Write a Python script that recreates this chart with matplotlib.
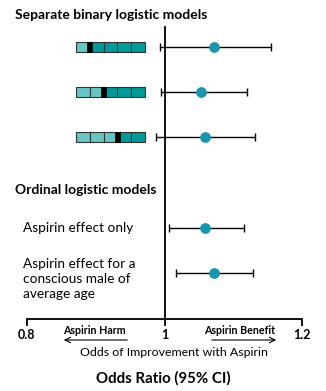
import matplotlib.pyplot as plt
from matplotlib.patches import Rectangle

plt.rcParams['font.family'] = ['Lato', 'DejaVu Sans']

# odds ratios with 95% CI
odds = [1.071, 1.053, 1.058, 1.058, 1.071]
ci_low = [0.993, 0.995, 0.987, 1.007, 1.016]
ci_high = [1.155, 1.119, 1.132, 1.115, 1.128]
rows = [47, 92, 137, 228, 273]          # vertical position of each row (px from top)
threshold = [1, 2, 3]                    # cut point of each binary model (out of 5 cells)
row_labels = ['', '', '', 'Aspirin effect only',
              'Aspirin effect for a\nconscious male of\naverage age']
label_y = [0, 0, 0, 228, 279]
xticks = [0.8, 1.0, 1.2]
xticklabels = ['0.8', '1', '1.2']

W, H = 326, 391
fig = plt.figure(figsize=(W / 100, H / 100), dpi=100)
ax = fig.add_axes([27 / W, (H - 319) / H, 275.3 / W, 319 / H])
ax.set_xlim(0.8, 1.2)
ax.set_ylim(319, 0)
px = 0.4 / 275.3  # data units per pixel

for sp in ['top', 'right', 'left']:
    ax.spines[sp].set_visible(False)
ax.spines['bottom'].set_linewidth(1.3)
ax.set_yticks([])
ax.set_xticks(xticks)
ax.set_xticklabels(xticklabels, fontweight='bold', fontsize=9)
ax.tick_params(axis='x', direction='out', length=5, width=1.3, pad=2)

ax.axvline(1.0, ymin=0, ymax=(319 - 27) / 319, color='black', lw=1.3)

ax.errorbar(odds, rows, xerr=[[o - l for o, l in zip(odds, ci_low)],
                              [h - o for o, h in zip(odds, ci_high)]],
            fmt='none', ecolor='black', elinewidth=1, capsize=3, capthick=1)
ax.scatter(odds, rows, s=45, color='#1995AE', zorder=3)

# little threshold bars for the binary models
x0 = 0.8 + (76 - 27) * px
cw = 13.8 * px
bh = 9.5
for y, k in zip(rows[:3], threshold):
    for i in range(5):
        c = '#66C6C6' if i < k else '#009A9A'
        ax.add_patch(Rectangle((x0 + i * cw, y - bh / 2), cw, bh, facecolor=c,
                               edgecolor='#333333', lw=0.8, clip_on=False))
    ax.add_patch(Rectangle((x0 + k * cw - 2.5 * px, y - bh / 2), 5 * px, bh,
                           facecolor='black', edgecolor='black', lw=0.5, clip_on=False))

lx = 0.8 + (23 - 27) * px
for y, lab in zip(label_y, row_labels):
    if lab:
        ax.text(lx, y, lab, fontsize=9.8, ha='left', va='center',
                linespacing=1.35, clip_on=False)

tx = 0.8 + (15 - 27) * px
ax.text(tx, 15, 'Separate binary logistic models', fontsize=10, fontweight='bold',
        ha='left', va='center', clip_on=False)
ax.text(tx, 190, 'Ordinal logistic models', fontsize=10, fontweight='bold',
        ha='left', va='center', clip_on=False)

# below the axis
fig.text(94 / W, 1 - 331 / H, 'Aspirin Harm', fontsize=7.7, fontweight='bold', ha='center', va='center')
fig.text(240 / W, 1 - 331 / H, 'Aspirin Benefit', fontsize=7.7, fontweight='bold', ha='center', va='center')
ax.annotate('', xy=(0.8 + (61 - 27) * px, 340), xytext=(0.8 + (130 - 27) * px, 340),
            xycoords='data', annotation_clip=False,
            arrowprops=dict(arrowstyle='->', lw=0.8, color='black'))
ax.annotate('', xy=(0.8 + (279 - 27) * px, 340), xytext=(0.8 + (209 - 27) * px, 340),
            xycoords='data', annotation_clip=False,
            arrowprops=dict(arrowstyle='->', lw=0.8, color='black'))
fig.text(174 / W, 1 - 353 / H, 'Odds of Improvement with Aspirin', fontsize=8.9,
         ha='center', va='center')
fig.text(163 / W, 1 - 378 / H, 'Odds Ratio (95% CI)', fontsize=10.8, fontweight='bold',
         ha='center', va='center')

fig.savefig('out.png', dpi=100)
